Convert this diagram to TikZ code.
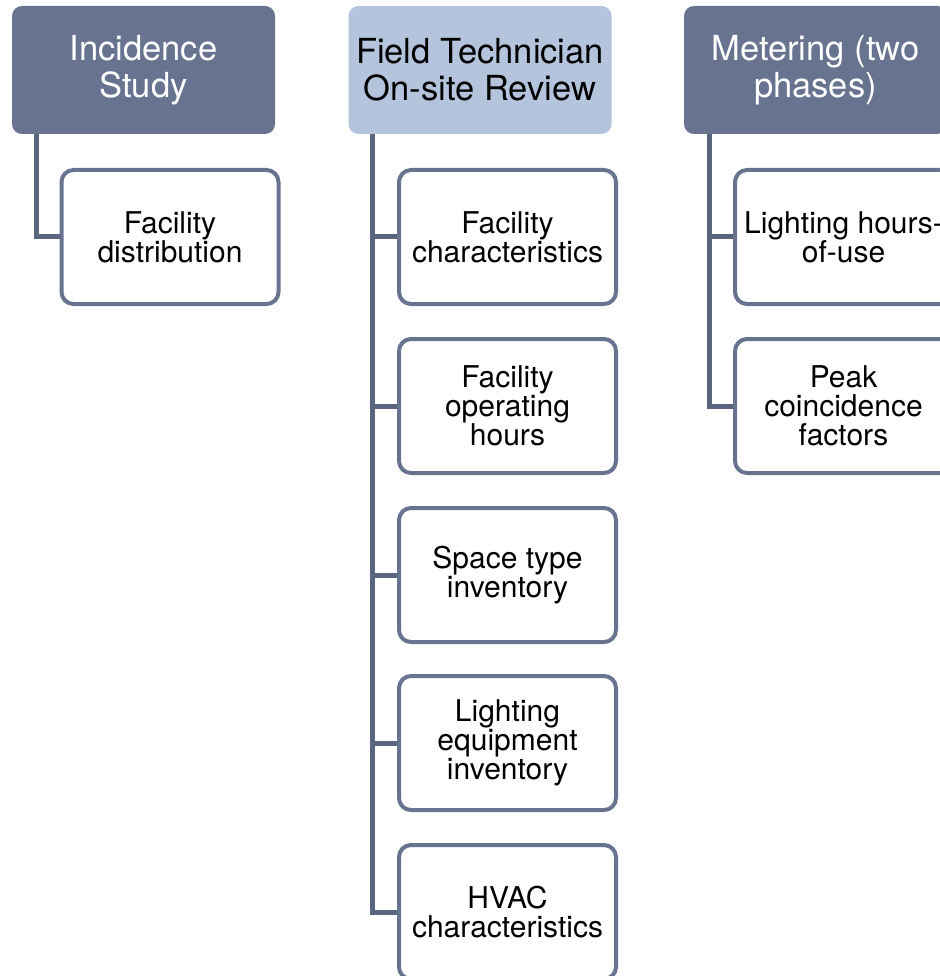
\documentclass[tikz,border=0pt]{standalone}
\usepackage{fontspec}
\setmainfont{TeX Gyre Heros}
\definecolor{darkbox}{HTML}{67738F}
\definecolor{lightbox}{HTML}{B4C4DC}
\definecolor{linecol}{HTML}{5A6580}
\tikzset{
  topbox/.style={rectangle, rounded corners=10pt, minimum width=263pt, minimum height=128pt, inner sep=0pt, align=center, font={\fontsize{34.5}{37}\selectfont}},
  topdark/.style={topbox, fill=darkbox, text=white},
  toplight/.style={topbox, fill=lightbox, text=black},
  childbox/.style={rectangle, rounded corners=12pt, draw=darkbox, line width=4pt, fill=white, minimum width=217pt, minimum height=134pt, inner sep=0pt, align=center, font={\fontsize{30}{29}\selectfont}},
  conn/.style={draw=linecol, line width=5pt, line join=miter}
}
\begin{document}
\begin{tikzpicture}[x=1pt,y=-1pt]
\useasboundingbox (0,0) rectangle (939,976);
% top boxes
\node[topdark] (is) at (143.5,70) {Incidence\\Study};
\node[toplight] (ft) at (480,70) {Field Technician\\On-site Review};
\node[topdark] (me) at (815.5,70) {Metering (two\\phases)};
% children
\node[childbox] (is1) at (170,237) {Facility\\distribution};
\node[childbox] (ft1) at (507.5,237) {Facility\\characteristics};
\node[childbox] (ft2) at (507.5,406) {Facility\\operating\\hours};
\node[childbox] (ft3) at (507.5,575) {Space type\\inventory};
\node[childbox] (ft4) at (507.5,743) {Lighting\\equipment\\inventory};
\node[childbox] (ft5) at (507.5,912) {HVAC\\characteristics};
\node[childbox] (me1) at (843.5,237) {Lighting hours-\\of-use};
\node[childbox] (me2) at (843.5,406) {Peak\\coincidence\\factors};
% connector origins
\coordinate (isv) at (36,134);
\coordinate (ftv) at (372,134);
\coordinate (mev) at (709,134);
% connectors
\draw[conn] (isv) |- (is1.west);
\draw[conn] (ftv) |- (ft1.west);
\draw[conn] (ftv) |- (ft2.west);
\draw[conn] (ftv) |- (ft3.west);
\draw[conn] (ftv) |- (ft4.west);
\draw[conn] (ftv) |- (ft5.west);
\draw[conn] (mev) |- (me1.west);
\draw[conn] (mev) |- (me2.west);
\end{tikzpicture}
\end{document}
